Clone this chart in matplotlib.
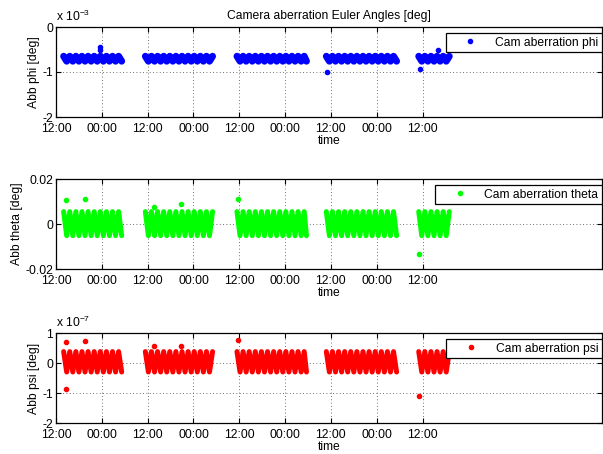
import datetime as dt

import matplotlib

matplotlib.use("Agg")
import matplotlib.dates as mdates
import matplotlib.pyplot as plt
import numpy as np
from matplotlib.lines import Line2D
from matplotlib.ticker import FuncFormatter

plt.rcParams["font.family"] = ["Liberation Sans", "DejaVu Sans"]
plt.rcParams["font.size"] = 8.7
plt.rcParams["axes.unicode_minus"] = False
plt.rcParams["mathtext.fontset"] = "custom"
plt.rcParams["mathtext.rm"] = "Liberation Sans"

T0 = dt.datetime(2012, 3, 1, 12, 0)

# orbit extremes, hours after the first 12:00 tick (alternating peak / trough)
seg_hours = [
    [2.0, 2.8, 3.6, 4.4, 5.2, 6.0, 6.8, 7.6, 8.4, 9.2, 10.0, 10.8, 11.6, 12.4,
     13.2, 14.0, 14.8, 15.6, 16.4, 17.2],
    [23.4, 24.2, 25.0, 25.8, 26.6, 27.4, 28.2, 29.0, 29.8, 30.6, 31.4, 32.2,
     33.0, 33.8, 34.6, 35.4, 36.2, 37.0, 37.8, 38.6, 39.4, 40.2, 41.0],
    [47.4, 48.2, 49.0, 49.8, 50.6, 51.4, 52.2, 53.0, 53.8, 54.6, 55.4, 56.2,
     57.0, 57.8, 58.6, 59.4, 60.2, 61.0, 61.8, 62.6, 63.4, 64.2, 65.0, 65.6],
    [70.8, 71.6, 72.4, 73.2, 74.0, 74.8, 75.6, 76.4, 77.2, 78.0, 78.8, 79.6,
     80.4, 81.2, 82.0, 82.8, 83.6, 84.4, 85.2, 86.0, 86.8, 87.6, 88.4, 89.2],
    [95.0, 95.8, 96.6, 97.4, 98.2, 99.0, 99.8, 100.6, 101.4, 102.2, 103.0],
]

# band reached by the orbit oscillation (peak, trough)
phi_band = (-0.65e-3, -0.76e-3)
theta_band = (0.0055, -0.0052)
psi_band = (0.38e-7, -0.30e-7)

# isolated samples
phi_out_h = [11.4, 11.4, 71.1, 95.3, 100.1]
phi_out_v = [-0.44e-3, -0.50e-3, -1.0e-3, -0.93e-3, -0.50e-3]
theta_out_h = [2.6, 7.7, 25.7, 32.8, 47.6, 95.2]
theta_out_v = [0.0107, 0.0111, 0.0077, 0.0087, 0.0111, -0.0135]
psi_out_h = [2.6, 2.5, 7.7, 25.7, 32.8, 47.6, 95.2]
psi_out_v = [0.70e-7, -0.88e-7, 0.74e-7, 0.56e-7, 0.56e-7, 0.76e-7, -1.1e-7]

tick_hours = [0, 12, 24, 36, 48, 60, 72, 84, 96]
x_end_hours = 143


def to_dates(hours):
    return [T0 + dt.timedelta(hours=h) for h in hours]


def draw_panel(ax, band, out_h, out_v, color, label, ylabel, ylim, yticks,
               scale=None, lw=2.0):
    xs, ys = [], []
    for seg in seg_hours:
        xs += [mdates.date2num(d) for d in to_dates(seg)] + [np.nan]
        ys += [band[i % 2] for i in range(len(seg))] + [np.nan]
    ax.plot(xs, ys, color=color, linewidth=lw, solid_capstyle="round",
            solid_joinstyle="round")
    ax.plot(to_dates(out_h), out_v, ".", color=color, markersize=6)

    ax.set_xlim(T0, T0 + dt.timedelta(hours=x_end_hours))
    ax.set_xticks(to_dates(tick_hours))
    ax.xaxis.set_major_formatter(mdates.DateFormatter("%H:%M"))
    ax.set_ylim(*ylim)
    ax.set_yticks(yticks)
    if scale:
        ax.yaxis.set_major_formatter(FuncFormatter(lambda v, _: f"{v / scale:g}"))
        exp = int(round(np.log10(scale)))
        ax.text(0, 1.03, "x 10$^{%d}$" % exp, transform=ax.transAxes,
                ha="left", va="bottom")
    else:
        ax.yaxis.set_major_formatter(FuncFormatter(lambda v, _: f"{v:g}"))

    ax.grid(True, linestyle=(0, (1, 3)), color="0.25", linewidth=0.6)
    ax.set_axisbelow(True)
    ax.tick_params(direction="in", top=True, right=True, length=3.5)
    ax.tick_params(axis="x", pad=4.6)
    ax.tick_params(axis="y", pad=2)
    for s in ax.spines.values():
        s.set_linewidth(0.9)
    ax.set_xlabel("time", labelpad=0)
    ax.set_ylabel(ylabel, labelpad=2)

    handle = Line2D([], [], marker=".", linestyle="none", color=color, markersize=6)
    ax.legend([handle], [label], loc="upper right",
              bbox_to_anchor=(1.0, 1 - 6 / 90), borderaxespad=0,
              fancybox=False, edgecolor="black", framealpha=1,
              handlelength=3.5, handletextpad=0.3, borderpad=0.3)
    ax.get_legend().get_frame().set_linewidth(0.9)


fig = plt.figure(figsize=(6.03, 4.54), dpi=100)
left, width, height = 56 / 603, 546 / 603, 90 / 454
ax1 = fig.add_axes([left, 1 - 117 / 454, width, height])
ax2 = fig.add_axes([left, 1 - 269 / 454, width, height])
ax3 = fig.add_axes([left, 1 - 423 / 454, width, height])

draw_panel(ax1, phi_band, phi_out_h, phi_out_v, (0, 0, 1), "Cam aberration phi",
           "Abb phi [deg]", (-2e-3, 0), [-2e-3, -1e-3, 0], scale=1e-3, lw=5.0)
draw_panel(ax2, theta_band, theta_out_h, theta_out_v, (0, 1, 0),
           "Cam aberration theta", "Abb theta [deg]", (-0.02, 0.02),
           [-0.02, 0, 0.02], lw=3.6)
draw_panel(ax3, psi_band, psi_out_h, psi_out_v, (1, 0, 0), "Cam aberration psi",
           "Abb psi [deg]", (-2e-7, 1e-7), [-2e-7, -1e-7, 0, 1e-7],
           scale=1e-7, lw=3.6)

ax1.set_title("Camera aberration Euler Angles [deg]", fontsize=8.7, pad=6)

fig.savefig("out.png", dpi=100)
